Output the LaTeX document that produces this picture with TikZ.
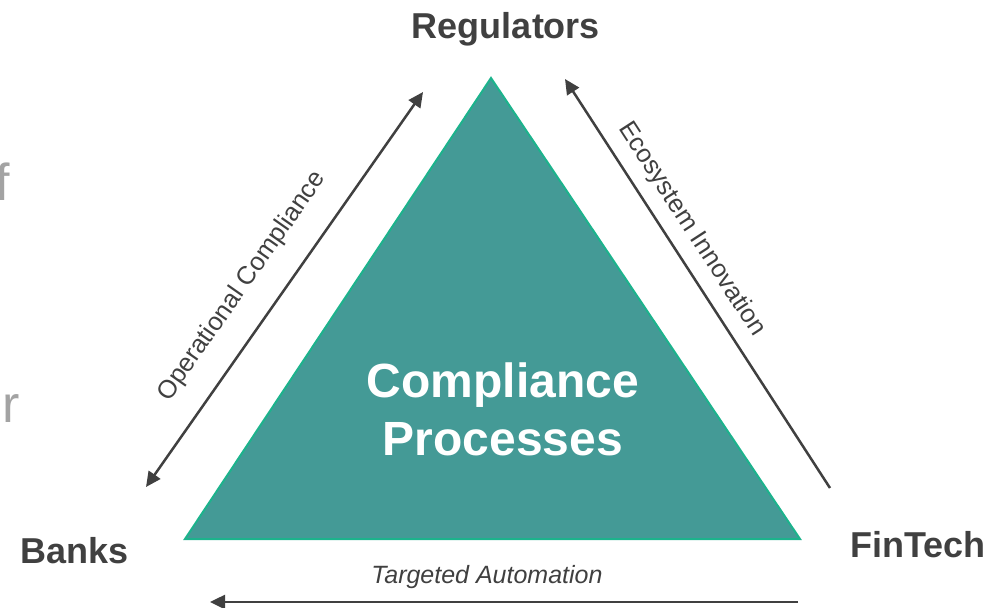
\documentclass[tikz,border=0pt]{standalone}
\usepackage{fontspec}
\setmainfont{Liberation Sans}
\usetikzlibrary{arrows.meta}
\definecolor{tealfill}{HTML}{449A96}
\definecolor{tealedge}{HTML}{1CB38C}
\definecolor{ink}{HTML}{404040}
\definecolor{ghost}{HTML}{A3A3A3}
\begin{document}
\begin{tikzpicture}[x=1pt,y=-1pt,
  party/.style={font=\bfseries\fontsize{36}{40}\selectfont, text=ink, inner sep=0pt},
  flow/.style={draw=ink, line width=2.5pt},
  flowlbl/.style={font=\fontsize{25.5}{28}\selectfont, text=ink, sloped},
  ghosttxt/.style={font=\fontsize{52}{56}\selectfont, text=ghost, inner sep=0pt}]
\useasboundingbox (0,0) rectangle (1005,608);
\clip (0,0) rectangle (1005,608);

% partially visible text at the left edge
\node[ghosttxt, anchor=base east] (g1) at (10,200) {of};
\node[ghosttxt, anchor=base east] (g2) at (20,422) {or};

% triangle
\coordinate (apex) at (491,78);
\coordinate (bl) at (185,539);
\coordinate (br) at (800,539);
\filldraw[fill=tealfill, draw=tealedge, line width=2pt, line join=miter] (apex) -- (bl) -- (br) -- cycle;
\node[font=\bfseries\fontsize{48}{58}\selectfont, text=white, align=center] (core) at (503,409) {Compliance\\Processes};

% parties
\node[party] (reg) at (506,29) {Regulators};
\node[party] (banks) at (75,551) {Banks};
\node[party] (fin) at (918,545) {FinTech};

% connectors
\coordinate (oc1) at (146,487);
\coordinate (oc2) at (423,92);
\coordinate (ei1) at (830,488);
\coordinate (ei2) at (565,79);
\coordinate (ta1) at (798,602);
\coordinate (ta2) at (210,602);

\draw[flow, {Triangle[length=15pt,width=14pt]}-{Triangle[length=15pt,width=14pt]}] (oc1) -- node[flowlbl, pos=0.455, above=20pt] (oclbl) {Operational Compliance} (oc2);
\draw[flow, -{Triangle[length=15pt,width=14pt]}] (ei1) -- node[flowlbl, pos=0.6, above=8pt] (eilbl) {Ecosystem Innovation} (ei2);
\draw[flow, -{Triangle[length=15pt,width=14pt]}] (ta1) -- node[flowlbl, pos=0.529, above=9pt, font=\itshape\fontsize{25}{28}\selectfont] (talbl) {Targeted Automation} (ta2);
\end{tikzpicture}
\end{document}
